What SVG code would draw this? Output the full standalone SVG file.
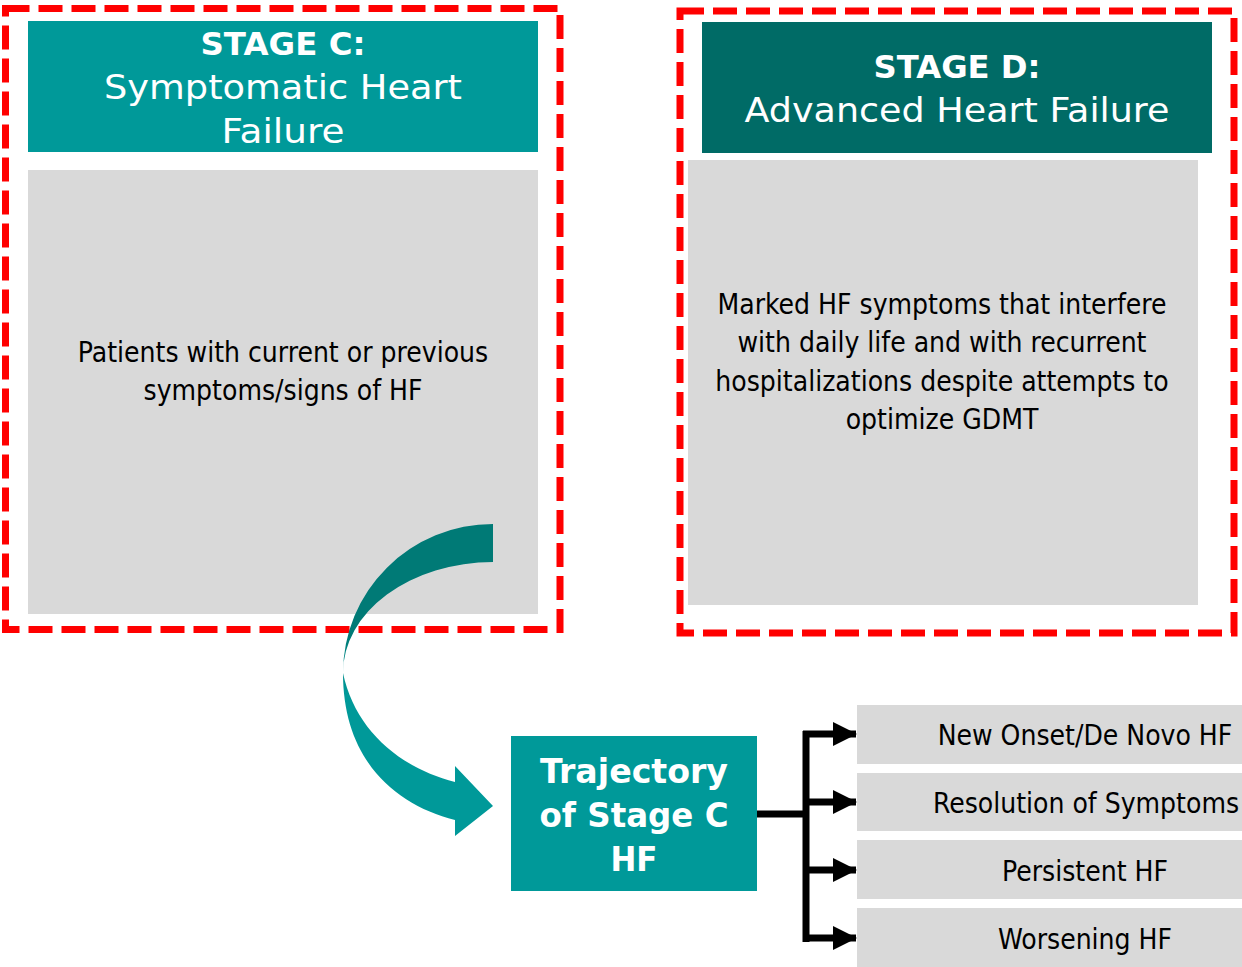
<svg xmlns="http://www.w3.org/2000/svg" width="1242" height="967" viewBox="0 0 1242 967">
<defs>
<style>
.dash{fill:none;stroke:#FF0000;stroke-width:7;stroke-dasharray:24 9}
.gray{fill:#D9D9D9}
.teal{fill:#009999}
.dteal{fill:#006B66}
.hb{font-family:"DejaVu Sans","Noto Sans",sans-serif;font-weight:bold;fill:#fff;text-anchor:middle}
.hr{font-family:"DejaVu Sans","Noto Sans",sans-serif;fill:#fff;text-anchor:middle}
.body{font-family:"Liberation Sans Narrow","DejaVu Sans Condensed","Liberation Sans",sans-serif;fill:#000;text-anchor:middle;font-size:28px}
.conn{fill:none;stroke:#000;stroke-width:7}
</style>
<linearGradient id="g" x1="0" y1="524" x2="0" y2="836" gradientUnits="userSpaceOnUse">
<stop offset="0" stop-color="#007A76"/>
<stop offset="0.35" stop-color="#007A76"/>
<stop offset="0.55" stop-color="#009999"/>
<stop offset="1" stop-color="#009999"/>
</linearGradient>
<marker id="ah" markerWidth="24" markerHeight="24" refX="23" refY="12" markerUnits="userSpaceOnUse" orient="auto">
<path d="M0,0 L24,12 L0,24 Z" fill="#000"/>
</marker>
</defs>

<g id="stageC">
<rect class="gray" x="28" y="170" width="510" height="444"/>
<rect class="teal" x="28" y="21" width="510" height="131"/>
<rect class="dash" x="5.5" y="8.5" width="554.5" height="621"/>
<text class="hb" x="283" y="55" font-size="32" textLength="165" lengthAdjust="spacingAndGlyphs">STAGE C:</text>
<text class="hr" x="283" y="99" font-size="33" textLength="358" lengthAdjust="spacingAndGlyphs">Symptomatic Heart</text>
<text class="hr" x="283" y="143" font-size="33" textLength="123" lengthAdjust="spacingAndGlyphs">Failure</text>
<text class="body" x="283" y="362">Patients with current or previous</text>
<text class="body" x="283" y="400">symptoms/signs of HF</text>
</g>

<g id="stageD">
<rect class="gray" x="688" y="160" width="510" height="445"/>
<rect class="dteal" x="702" y="22" width="510" height="131"/>
<rect class="dash" x="680" y="11" width="554" height="622"/>
<text class="hb" x="957" y="78" font-size="32" textLength="167" lengthAdjust="spacingAndGlyphs">STAGE D:</text>
<text class="hr" x="957" y="122" font-size="33" textLength="425" lengthAdjust="spacingAndGlyphs">Advanced Heart Failure</text>
<text class="body" x="942" y="314">Marked HF symptoms that interfere</text>
<text class="body" x="942" y="352">with daily life and with recurrent</text>
<text class="body" x="942" y="391">hospitalizations despite attempts to</text>
<text class="body" x="942" y="429">optimize GDMT</text>
</g>

<g id="curvedArrow">
<path d="M493,524 A150,149 0 0 0 343,673 C343,760 395,805 455,820 L455,836 L493,806 L455,766 L455,782 C400,768 355,730 343,673 A150,111 0 0 1 493,562 Z" fill="url(#g)"/>
</g>

<g id="trajectory">
<rect class="teal" x="511" y="736" width="246" height="155"/>
<text class="hb" x="634" y="783" font-size="33" textLength="188" lengthAdjust="spacingAndGlyphs">Trajectory</text>
<text class="hb" x="634" y="827" font-size="33" textLength="189" lengthAdjust="spacingAndGlyphs">of Stage C</text>
<text class="hb" x="634" y="871" font-size="33" textLength="47" lengthAdjust="spacingAndGlyphs">HF</text>
</g>

<g id="out1"><rect class="gray" x="857" y="705" width="385" height="59"/><text class="body" x="1085" y="745">New Onset/De Novo HF</text></g>
<g id="out2"><rect class="gray" x="857" y="773" width="385" height="58"/><text class="body" x="1086" y="813">Resolution of Symptoms</text></g>
<g id="out3"><rect class="gray" x="857" y="840" width="385" height="59"/><text class="body" x="1085" y="881">Persistent HF</text></g>
<g id="out4"><rect class="gray" x="857" y="908" width="385" height="59"/><text class="body" x="1085" y="949">Worsening HF</text></g>

<g id="connectors">
<path class="conn" d="M757,814 H806"/>
<path class="conn" d="M806,731 V942"/>
<path class="conn" d="M803,734 H856" marker-end="url(#ah)"/>
<path class="conn" d="M806,802 H856" marker-end="url(#ah)"/>
<path class="conn" d="M806,870 H856" marker-end="url(#ah)"/>
<path class="conn" d="M803,938 H856" marker-end="url(#ah)"/>
</g>
</svg>
